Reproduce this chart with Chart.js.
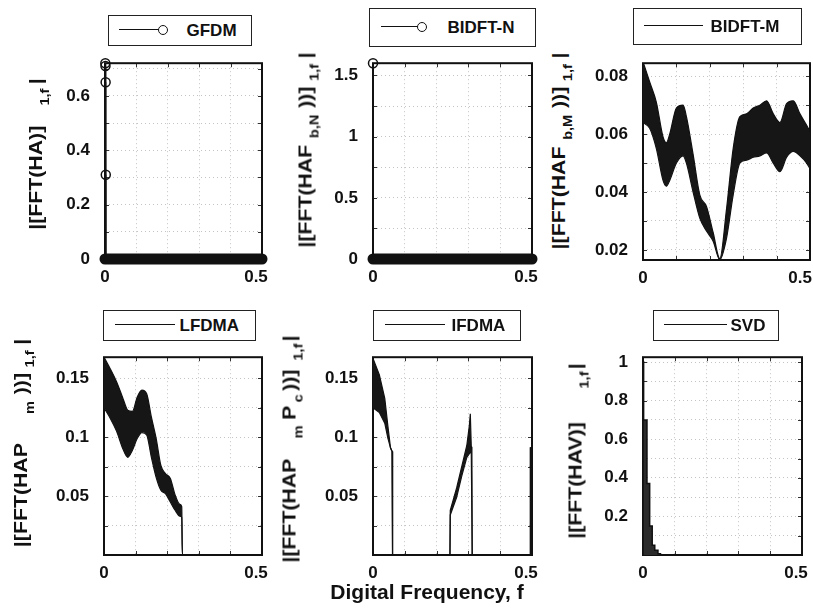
<!DOCTYPE html>
<html><head><meta charset="utf-8">
<script src="https://cdn.jsdelivr.net/npm/chart.js@4.4.0/dist/chart.umd.min.js"></script>
<style>
html,body{margin:0;padding:0;background:#fff;}
#wrap{position:relative;width:813px;height:608px;overflow:hidden;font-family:'Liberation Sans',Arial,sans-serif;font-weight:bold;color:#111;}
canvas{position:absolute;}
.leg{position:absolute;border:1.5px solid #222;background:#fff;box-sizing:border-box;}
.leg .ln{position:absolute;height:0;border-top:1.6px solid #111;}
.leg .mk{position:absolute;width:10px;height:10px;border:1.6px solid #111;border-radius:50%;box-sizing:border-box;background:#fff;}
.leg .tx{position:absolute;font-size:17px;line-height:17px;white-space:nowrap;}
.yt{position:absolute;white-space:nowrap;font-size:19px;line-height:19px;height:19px;}
.yt .sb{font-size:13px;line-height:0;position:relative;top:7px;}
#xt{position:absolute;font-size:21px;line-height:21px;white-space:nowrap;transform:translate(-50%,-50%);}
</style></head>
<body>
<div id="wrap">
<canvas id="c1"></canvas><canvas id="c2"></canvas><canvas id="c3"></canvas>
<canvas id="c4"></canvas><canvas id="c5"></canvas><canvas id="c6"></canvas>
</div>
<script>
// ---------- shared axis ----------
const xTickValues = [0, 0.1, 0.2, 0.3, 0.4, 0.5];
const xTickLabels = ['0', '', '', '', '', '0.5'];

// ---------- GFDM ----------
const gfdmStemFreq = [0.001, 0.0015, 0.002, 0.0025];
const gfdmStemMag = [0.72, 0.71, 0.65, 0.31];
const gfdmFloorFreq = [0, 0.5];
const gfdmFloorMag = [0, 0];
const gfdmYTicks = [0, 0.1, 0.2, 0.3, 0.4, 0.5, 0.6, 0.7];
const gfdmYLabels = ['0', '', '0.2', '', '0.4', '', '0.6', ''];

// ---------- BIDFT-N ----------
const bidftnStemFreq = [0];
const bidftnStemMag = [1.6];
const bidftnFloorFreq = [0, 0.5];
const bidftnFloorMag = [0, 0];
const bidftnYTicks = [0, 0.25, 0.5, 0.75, 1, 1.25, 1.5];
const bidftnYLabels = ['0', '', '0.5', '', '1', '', '1.5'];

// ---------- BIDFT-M (envelope of dense oscillation) ----------
const bidftmFreq  = [0, 0.02, 0.04, 0.06, 0.07, 0.08, 0.1, 0.12, 0.13, 0.15, 0.17, 0.19, 0.21, 0.23, 0.25, 0.27, 0.29, 0.31, 0.33, 0.35, 0.37, 0.39, 0.41, 0.43, 0.45, 0.47, 0.49, 0.5];
const bidftmUpper = [0.085, 0.078, 0.071, 0.059, 0.057, 0.060, 0.069, 0.070, 0.066, 0.053, 0.039, 0.035, 0.026, 0.017, 0.034, 0.055, 0.066, 0.067, 0.069, 0.070, 0.0715, 0.067, 0.064, 0.0705, 0.0715, 0.067, 0.063, 0.061];
const bidftmLower = [0.064, 0.062, 0.055, 0.044, 0.042, 0.044, 0.050, 0.0525, 0.050, 0.040, 0.031, 0.0265, 0.023, 0.0166, 0.024, 0.039, 0.050, 0.051, 0.052, 0.0525, 0.0535, 0.050, 0.047, 0.052, 0.054, 0.0525, 0.050, 0.048];
const bidftmYTicks = [0.02, 0.03, 0.04, 0.05, 0.06, 0.07, 0.08];
const bidftmYLabels = ['0.02', '', '0.04', '', '0.06', '', '0.08'];

// ---------- LFDMA ----------
const lfdmaFreq  = [0, 0.02, 0.04, 0.06, 0.075, 0.09, 0.105, 0.12, 0.135, 0.15, 0.165, 0.18, 0.195, 0.21, 0.225, 0.24, 0.246, 0.248, 0.5];
const lfdmaUpper = [0.168, 0.158, 0.147, 0.133, 0.123, 0.122, 0.134, 0.140, 0.137, 0.117, 0.099, 0.076, 0.069, 0.065, 0.051, 0.043, 0.041, 0, 0];
const lfdmaLower = [0.125, 0.116, 0.105, 0.090, 0.083, 0.089, 0.099, 0.104, 0.102, 0.083, 0.066, 0.055, 0.052, 0.045, 0.038, 0.033, 0.032, 0, 0];
const fdmaYTicks = [0, 0.025, 0.05, 0.075, 0.1, 0.125, 0.15];
const fdmaYLabels = ['', '', '0.05', '', '0.1', '', '0.15'];

// ---------- IFDMA ----------
const ifdmaFreq  = [0, 0.02, 0.037, 0.047, 0.055, 0.06, 0.061, 0.062, 0.242, 0.243, 0.263, 0.279, 0.295, 0.303, 0.306, 0.309, 0.311, 0.312, 0.494, 0.495, 0.5];
const ifdmaUpper = [0.167, 0.153, 0.133, 0.109, 0.091, 0.088, 0.086, 0, 0, 0.038, 0.057, 0.075, 0.093, 0.110, 0.120, 0.092, 0.088, 0, 0, 0.091, 0.091];
const ifdmaLower = [0.125, 0.121, 0.112, 0.099, 0.091, 0.088, 0.086, 0, 0, 0.034, 0.049, 0.067, 0.083, 0.086, 0.087, 0.088, 0.088, 0, 0, 0.091, 0.091];

// ---------- SVD ----------
const svdFreq = [0, 0, 0.002, 0.0125, 0.021, 0.029, 0.037, 0.047, 0.055, 0.5];
const svdMag  = [0, 1.0, 0.70, 0.37, 0.15, 0.05, 0.024, 0.006, 0, 0];
const svdYTicks = [0, 0.1, 0.2, 0.3, 0.4, 0.5, 0.6, 0.7, 0.8, 0.9, 1.0];
const svdYLabels = ['', '', '0.2', '', '0.4', '', '0.6', '', '0.8', '', '1'];

// ---------- helpers ----------
const INK = '#111';
const FONT_FAMILY = "'Liberation Sans', Arial, sans-serif";
const tickFont = {family:FONT_FAMILY, size:17, weight:'bold'};
const pts = (xs, ys) => xs.map((x, i) => ({x, y: ys[i]}));
function stemPts(xs, ys){ const p=[]; xs.forEach((x,i)=>{p.push({x,y:0},{x,y:ys[i]},{x,y:null});}); return p; }
const labelCb = (vals, labs) => (v) => { const i = vals.findIndex(t => Math.abs(t - v) < 1e-9); return i >= 0 ? labs[i] : ''; };

const boxPlugin = {
  id:'box',
  beforeDatasetsDraw(chart){
    const {ctx, chartArea:a, scales:{x, y}} = chart;
    ctx.save();
    ctx.strokeStyle = '#333'; ctx.lineWidth = 1;
    ctx.beginPath();
    x.ticks.forEach(t => { const p = Math.round(x.getPixelForValue(t.value)) + 0.5;
      ctx.moveTo(p, a.bottom); ctx.lineTo(p, a.bottom - 4); ctx.moveTo(p, a.top); ctx.lineTo(p, a.top + 4); });
    y.ticks.forEach(t => { const p = Math.round(y.getPixelForValue(t.value)) + 0.5;
      ctx.moveTo(a.left, p); ctx.lineTo(a.left + 4, p); ctx.moveTo(a.right, p); ctx.lineTo(a.right - 4, p); });
    ctx.stroke();
    ctx.strokeStyle = INK; ctx.lineWidth = 2;
    ctx.strokeRect(a.left, a.top, a.right - a.left, a.bottom - a.top);
    ctx.restore();
  },
  afterDraw(chart){
    // x tick labels (MATLAB keeps the last label inside the figure)
    const {ctx, chartArea:a, scales:{x}} = chart;
    ctx.save();
    ctx.font = 'bold 17px ' + FONT_FAMILY; ctx.fillStyle = INK;
    ctx.textAlign = 'center'; ctx.textBaseline = 'top';
    const maxRight = 812 - chart.canvas.offsetLeft;
    xTickValues.forEach((v, i) => {
      const lab = xTickLabels[i]; if (!lab) return;
      let px = x.getPixelForValue(v);
      if (i === xTickValues.length - 1) px -= 6;
      const hw = ctx.measureText(lab).width / 2;
      if (px + hw > maxRight) px = maxRight - hw;
      ctx.fillText(lab, px, a.bottom + 10);
    });
    ctx.restore();
  }
};

function makeChart(id, r, yMin, yMax, yTicks, yLabels, datasets){
  const cv = document.getElementById(id);
  const pL = 60, pT = 10, pR = 15, pB = 35;
  const w = r.R - r.L + pL + pR, h = r.B - r.T + pT + pB;
  cv.width = w; cv.height = h;
  Object.assign(cv.style, {left:(r.L - pL)+'px', top:(r.T - pT)+'px', width:w+'px', height:h+'px'});
  const grid = {color:'#c4c4c4', lineWidth:1, drawTicks:false};
  const border = {display:false, dash:[1,3]};
  return new Chart(cv, {
    type:'line',
    data:{datasets},
    options:{
      responsive:false, animation:false, devicePixelRatio:1, events:[],
      layout:{padding:{left:0, top:pT, right:pR, bottom:0}},
      plugins:{legend:{display:false}, tooltip:{enabled:false}},
      scales:{
        x:{type:'linear', min:0, max:0.5,
          afterBuildTicks: s => { s.ticks = xTickValues.map(v => ({value:v})); },
          afterFit: s => { s.height = pB; },
          ticks:{display:false, autoSkip:false, maxRotation:0, callback:labelCb(xTickValues, xTickLabels)},
          grid, border},
        y:{type:'linear', min:yMin, max:yMax,
          afterBuildTicks: s => { s.ticks = yTicks.map(v => ({value:v})); },
          afterFit: s => { s.width = pL; },
          ticks:{autoSkip:false, padding:15, font:tickFont, color:INK, callback:labelCb(yTicks, yLabels)},
          grid, border}
      }
    },
    plugins:[boxPlugin]
  });
}

const stemSet = (xs, ys) => ({data:stemPts(xs, ys), borderColor:INK, borderWidth:2, pointRadius:0, fill:false, clip:false});
const circleSet = (xs, ys) => ({data:pts(xs, ys), showLine:false, pointRadius:4.5, pointBorderWidth:1.5, pointBorderColor:INK, pointBackgroundColor:'rgba(0,0,0,0)', clip:false});
const floorSet = (xs, ys) => ({data:pts(xs, ys), borderColor:INK, borderWidth:11, borderCapStyle:'round', pointRadius:0, fill:false, clip:false});
const bandSets = (xs, up, lo, mode) => [
  {data:pts(xs, up), borderColor:INK, borderWidth:1.2, pointRadius:0, cubicInterpolationMode:mode, fill:'+1', backgroundColor:'#161616'},
  {data:pts(xs, lo), borderColor:INK, borderWidth:1.2, pointRadius:0, cubicInterpolationMode:mode, fill:false}
];

makeChart('c1', {L:105, T:48, R:262, B:259}, 0, 0.72, gfdmYTicks, gfdmYLabels,
  [circleSet(gfdmStemFreq, gfdmStemMag), stemSet(gfdmStemFreq, gfdmStemMag), floorSet(gfdmFloorFreq, gfdmFloorMag)]);
makeChart('c2', {L:373, T:48, R:532, B:259}, 0, 1.6, bidftnYTicks, bidftnYLabels,
  [circleSet(bidftnStemFreq, bidftnStemMag), stemSet(bidftnStemFreq, bidftnStemMag), floorSet(bidftnFloorFreq, bidftnFloorMag)]);
makeChart('c3', {L:643, T:48, R:810, B:260}, 0.0165, 0.0845, bidftmYTicks, bidftmYLabels,
  bandSets(bidftmFreq, bidftmUpper, bidftmLower, 'monotone'));
makeChart('c4', {L:104, T:342, R:262, B:555}, 0, 0.168, fdmaYTicks, fdmaYLabels,
  bandSets(lfdmaFreq, lfdmaUpper, lfdmaLower, 'monotone'));
makeChart('c5', {L:373, T:342, R:532, B:555}, 0, 0.168, fdmaYTicks, fdmaYLabels,
  bandSets(ifdmaFreq, ifdmaUpper, ifdmaLower, 'default'));
makeChart('c6', {L:643, T:342, R:802, B:555}, 0, 1.025, svdYTicks, svdYLabels,
  [{data:pts(svdFreq, svdMag), stepped:'before', borderColor:INK, borderWidth:1.5, pointRadius:0, fill:'origin', backgroundColor:'#2b2b2b'}]);

// ---------- legends (HTML boxes) ----------
const legends = [
  {text:'GFDM',    L:108, T:15,  W:144, H:31, l1:119, l2:159, mk:163, tx:187},
  {text:'BIDFT-N', L:369, T:8,   W:167, H:39, l1:381, l2:418, mk:422, tx:448},
  {text:'BIDFT-M', L:633, T:8,   W:169, H:37, l1:644, l2:703, mk:null, tx:711},
  {text:'LFDMA',   L:103, T:310, W:153, H:31, l1:115, l2:175, mk:null, tx:180},
  {text:'IFDMA',   L:373, T:310, W:148, H:31, l1:385, l2:445, mk:null, tx:452},
  {text:'SVD',     L:653, T:310, W:126, H:31, l1:664, l2:727, mk:null, tx:731}
];
const wrap = document.getElementById('wrap');
legends.forEach(g => {
  const d = document.createElement('div'); d.className = 'leg';
  Object.assign(d.style, {left:g.L+'px', top:g.T+'px', width:g.W+'px', height:g.H+'px'});
  const cy = g.H/2 - 1.5;
  const ln = document.createElement('div'); ln.className = 'ln';
  Object.assign(ln.style, {left:(g.l1-g.L-1.5)+'px', width:(g.l2-g.l1)+'px', top:(cy-0.8)+'px'});
  d.appendChild(ln);
  if (g.mk !== null){ const m = document.createElement('div'); m.className = 'mk';
    Object.assign(m.style, {left:(g.mk-g.L-1.5-5)+'px', top:(cy-5)+'px'}); d.appendChild(m); }
  const t = document.createElement('div'); t.className = 'tx'; t.textContent = g.text;
  Object.assign(t.style, {left:(g.tx-g.L-1.5)+'px', top:(cy-8.5)+'px'});
  d.appendChild(t);
  wrap.appendChild(d);
});

// ---------- y-axis titles (rotated, with subscripts) ----------
const yTitles = [
  {cx:35,  cy:154, parts:[['|[FFT(HA)]',0,0],['1,f',1,18],['|',0,4]]},
  {cx:305, cy:150, parts:[['|[FFT(HAF',0,0],['b,N',1,6],['))]',0,6],['1,f',1,5],['|',0,5]]},
  {cx:558, cy:151, parts:[['|[FFT(HAF',0,0],['b,M',1,6],['))]',0,6],['1,f',1,5],['|',0,5]]},
  {cx:20,  cy:443, parts:[['|[FFT(HAP',0,0],['m',1,26],['))]',0,6],['1,f',1,5],['|',0,5]]},
  {cx:289, cy:449, parts:[['|[FFT(HAP',0,0],['m',1,18],['P',0,5],['c',1,3],['))]',0,3],['1,f',1,8],['|',0,2]]},
  {cx:575, cy:451, parts:[['|[FFT(HAV)]',0,0],['1,f',1,30],['|',0,2]]}
];
yTitles.forEach(y => {
  const d = document.createElement('div'); d.className = 'yt';
  y.parts.forEach(([txt, sub, ml]) => { const s = document.createElement('span');
    if (sub) s.className = 'sb'; s.style.marginLeft = ml + 'px'; s.textContent = txt; d.appendChild(s); });
  wrap.appendChild(d);
  d.style.left = y.cx + 'px'; d.style.top = y.cy + 'px';
  d.style.transform = 'translate(-50%,-50%) rotate(-90deg) scaleX(1.12)';
});

const xt = document.createElement('div'); xt.id = 'xt'; xt.textContent = 'Digital Frequency, f';
Object.assign(xt.style, {left:'427px', top:'591px'});
wrap.appendChild(xt);
</script>
</body></html>
